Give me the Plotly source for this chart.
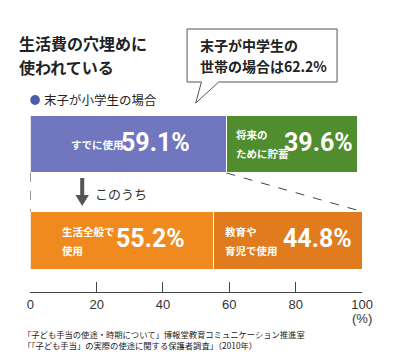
import plotly.graph_objects as go

# Data
rows = ["末子が小学生の場合", "このうち"]
segments = [
    {"row": "末子が小学生の場合", "label": ["すでに使用"], "value": 59.1, "color": "#7077BE"},
    {"row": "末子が小学生の場合", "label": ["将来の", "ために貯蓄"], "value": 39.6, "color": "#4F8D2F"},
    {"row": "このうち", "label": ["生活全般で", "使用"], "value": 55.2, "color": "#F08A1E"},
    {"row": "このうち", "label": ["教育や", "育児で使用"], "value": 44.8, "color": "#E07B1E"},
]
tick_vals = [0, 20, 40, 60, 80, 100]
title_lines = ["生活費の穴埋めに", "使われている"]
legend_text = "末子が小学生の場合"
callout_lines = ["末子が中学生の", "世帯の場合は62.2%"]
source_lines = ["「子ども手当の使途・時期について」博報堂教育コミュニケーション推進室",
                "「「子ども手当」の実際の使途に関する保護者調査」（2010年）"]

# page body has an 8px margin; design in window pixels and offset
OFF = 8
W, H = 400 - OFF, 364 - OFF
JP = "Noto Sans CJK JP"
NUM = "Roboto, Liberation Sans, sans-serif"


def px(x):
    return (x - OFF) / W


def py(y):
    return 1 - (y - OFF) / H


fig = go.Figure()
row_idx = {r: i for i, r in enumerate(rows)}
for s in segments:
    fig.add_trace(go.Bar(
        x=[s["value"]], y=[row_idx[s["row"]]], orientation="h",
        marker=dict(color=s["color"], line=dict(color="white", width=1)),
        width=0.6, showlegend=False, hoverinfo="skip",
    ))

unit = 96.5  # px between row centres
line_gap = 9.5 / unit

# label placement: (fraction for small label left edge, fraction for number right edge)
label_pos = {
    0: (0.196, 0.824),
    1: (0.06, 0.982),
    2: (0.163, 0.855),
    3: (0.062, 0.948),
}
annotations = []
cum = {}
for i, s in enumerate(segments):
    r = row_idx[s["row"]]
    start = cum.get(r, 0)
    cum[r] = start + s["value"]
    fl, fn = label_pos[i]
    n = len(s["label"])
    for k, line in enumerate(s["label"]):
        dy = (k - (n - 1) / 2) * 2 * line_gap
        annotations.append(dict(
            x=start + s["value"] * fl, y=r + dy, xref="x", yref="y",
            xanchor="left", yanchor="middle",
            text="<b>" + line + "</b>", showarrow=False, align="left",
            font=dict(family=JP, size=10.5, color="white"),
        ))
    annotations.append(dict(
        x=start + s["value"] * fn, y=r, xref="x", yref="y", xanchor="right", yanchor="middle",
        text="<b>%.1f%%</b>" % s["value"], showarrow=False, yshift=2,
        font=dict(family=NUM, size=25, color="white"),
    ))

for k, (line, yy) in enumerate(zip(title_lines, [43, 67])):
    annotations.append(dict(
        x=px(14), y=py(yy), xref="paper", yref="paper", xanchor="left", yanchor="middle",
        text="<b>" + line + "</b>", showarrow=False, borderpad=0,
        font=dict(family=JP, size=16, color="#222")))
for k, (line, yy) in enumerate(zip(callout_lines, [45, 66])):
    annotations.append(dict(
        x=px(201), y=py(yy), xref="paper", yref="paper", xanchor="left", yanchor="middle",
        text="<b>" + line + "</b>", showarrow=False,
        font=dict(family=JP, size=14, color="#222")))

annotations += [
    dict(x=px(39), y=py(100), xref="paper", yref="paper", xanchor="left", yanchor="middle",
         text=legend_text, showarrow=False, font=dict(family=JP, size=12.5, color="#222")),
    dict(x=px(92), y=py(193), xref="paper", yref="paper", xanchor="left", yanchor="middle",
         text="このうち", showarrow=False, font=dict(family=JP, size=13, color="#333")),
    dict(x=px(384), y=py(318), xref="paper", yref="paper", xanchor="right", yanchor="middle",
         text="(%)", showarrow=False, font=dict(family="Liberation Sans, Arial", size=13, color="#333")),
    dict(x=px(17), y=py(334), xref="paper", yref="paper", xanchor="left", yanchor="middle",
         text=source_lines[0], showarrow=False, font=dict(family=JP, size=8.3, color="#222")),
    dict(x=px(17), y=py(345), xref="paper", yref="paper", xanchor="left", yanchor="middle",
         text=source_lines[1], showarrow=False, font=dict(family=JP, size=8.3, color="#222")),
]


def ppath(points):
    return "M " + " L ".join("%f,%f" % (px(x), py(y)) for x, y in points) + " Z"


shapes = [
    dict(type="circle", xref="paper", yref="paper",
         x0=px(27), x1=px(37), y0=py(95), y1=py(105),
         fillcolor="#4A5BA8", line=dict(width=0)),
    dict(type="path", xref="paper", yref="paper",
         path=ppath([(190, 29), (346, 29), (346, 82), (223, 82), (199, 103), (205, 82), (190, 82)]),
         fillcolor="white", line=dict(color="#555", width=1)),
    dict(type="line", xref="x", yref="y", x0=0, x1=0, y0=0.3, y1=0.7,
         line=dict(color="#444", width=1, dash="dash")),
    dict(type="line", xref="x", yref="y", x0=segments[0]["value"], x1=100, y0=0.3, y1=0.7,
         line=dict(color="#444", width=1, dash="dash")),
    dict(type="line", xref="paper", yref="paper", x0=px(81), x1=px(81), y0=py(178), y1=py(197),
         line=dict(color="#555", width=4)),
    dict(type="path", xref="paper", yref="paper",
         path=ppath([(74, 195), (88, 195), (81, 206)]),
         fillcolor="#555", line=dict(width=0)),
]

# rows: centre of row 0 at window y=144, row 1 at 240.5
c0 = 144 - OFF
y_top = -c0 / unit
y_bot = (H - c0) / unit

fig.update_layout(
    width=W, height=H, barmode="stack",
    margin=dict(l=0, r=0, t=0, b=0),
    paper_bgcolor="white", plot_bgcolor="white",
    annotations=annotations, shapes=shapes,
    xaxis=dict(domain=[px(27), px(372)], range=[0, 100], tickvals=tick_vals,
               ticks="inside", ticklen=10, tickcolor="#444", tickwidth=1,
               showline=True, linecolor="#444", linewidth=1, showgrid=False, zeroline=False,
               anchor="free", position=py(292),
               tickfont=dict(family="Liberation Sans, Arial", size=13, color="#333")),
    yaxis=dict(range=[y_bot, y_top], visible=False, domain=[0, 1]),
)

fig.write_html("out.html")
